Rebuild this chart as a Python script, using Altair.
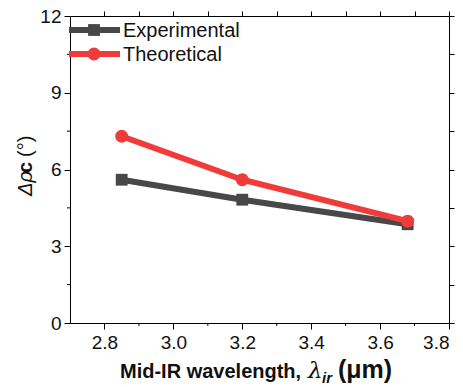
import altair as alt
import pandas as pd

# ---- data ----
wavelength = [2.85, 3.2, 3.68]
experimental = [5.6, 4.82, 3.86]
theoretical = [7.3, 5.6, 3.98]
series_names = ["Experimental", "Theoretical"]
series_colors = ["#484848", "#f03b3b"]
x_major = [2.8, 3.0, 3.2, 3.4, 3.6, 3.8]
x_minor = [2.9, 3.1, 3.3, 3.5, 3.7]
x_top = [2.8, 2.9, 3.0, 3.1, 3.2, 3.3, 3.4, 3.5, 3.6, 3.7, 3.8]
y_major = [0, 3, 6, 9, 12]
y_minor = [1.5, 4.5, 7.5, 10.5]
y_right = [0, 1.5, 3, 4.5, 6, 7.5, 9, 10.5, 12]

FONT = "Liberation Sans"
W, H = 379, 307

df = pd.DataFrame({
    "x": wavelength * 2,
    "y": experimental + theoretical,
    "series": [series_names[0]] * 3 + [series_names[1]] * 3,
})

xs = alt.Scale(domain=[2.7, 3.8], nice=False, zero=False)
ys = alt.Scale(domain=[0, 12], nice=False, zero=False)
color = alt.Color("series:N", scale=alt.Scale(domain=series_names, range=series_colors), legend=None)

axis_common = dict(domainColor="#000", tickColor="#000", labelFont=FONT, labelFontSize=19,
                   labelColor="#111", grid=False, domainWidth=1, tickWidth=1)

x_axis = alt.Axis(values=x_major, format=".1f", tickSize=6, labelPadding=4, title=None, **axis_common)
y_axis = alt.Axis(values=y_major, format="d", tickSize=6, labelPadding=3, title=None, **axis_common)

base = alt.Chart(df)
exp_line = base.transform_filter(alt.datum.series == series_names[0]).mark_line(strokeWidth=6).encode(
    x=alt.X("x:Q", scale=xs, axis=x_axis), y=alt.Y("y:Q", scale=ys, axis=y_axis), color=color)
exp_pts = base.transform_filter(alt.datum.series == series_names[0]).mark_point(
    shape="square", filled=True, size=140, opacity=1).encode(
    x=alt.X("x:Q", scale=xs, axis=None), y=alt.Y("y:Q", scale=ys, axis=None), color=color)
th_line = base.transform_filter(alt.datum.series == series_names[1]).mark_line(strokeWidth=6).encode(
    x=alt.X("x:Q", scale=xs, axis=None), y=alt.Y("y:Q", scale=ys, axis=None), color=color)
th_pts = base.transform_filter(alt.datum.series == series_names[1]).mark_point(
    shape="circle", filled=True, size=170, opacity=1).encode(
    x=alt.X("x:Q", scale=xs, axis=None), y=alt.Y("y:Q", scale=ys, axis=None), color=color)

mirror = base.mark_point(opacity=0).encode(
    x=alt.X("x:Q", scale=xs, axis=alt.Axis(orient="top", values=x_top, labels=False, tickSize=5,
                                            title=None, domainColor="#000", tickColor="#000", grid=False)),
    y=alt.Y("y:Q", scale=ys, axis=alt.Axis(orient="right", values=y_right, labels=False, tickSize=5,
                                            title=None, domainColor="#000", tickColor="#000", grid=False)),
)

minor_x = alt.Chart(pd.DataFrame({"x": x_minor})).mark_rule(color="#000", strokeWidth=1).encode(
    x=alt.X("x:Q", scale=xs, axis=None), y=alt.value(H), y2=alt.value(H + 3))
minor_y = alt.Chart(pd.DataFrame({"y": y_minor})).mark_rule(color="#000", strokeWidth=1).encode(
    y=alt.Y("y:Q", scale=ys, axis=None), x=alt.value(0), x2=alt.value(-3))

# ---- legend ----
leg_y = [14, 38]
leg = []
shapes = ["square", "circle"]
sizes = [140, 170]
for i in range(2):
    d = pd.DataFrame({"t": [series_names[i]]})
    leg.append(alt.Chart(d).mark_rule(strokeWidth=6, color=series_colors[i]).encode(
        x=alt.value(-1), x2=alt.value(50), y=alt.value(leg_y[i])))
    leg.append(alt.Chart(d).mark_point(shape=shapes[i], filled=True, size=sizes[i], opacity=1,
                                       color=series_colors[i]).encode(
        x=alt.value(24), y=alt.value(leg_y[i])))
    leg.append(alt.Chart(d).mark_text(font=FONT, fontSize=20, align="left", baseline="middle",
                                      color="#111").encode(
        x=alt.value(53), y=alt.value(leg_y[i] + 1), text="t:N"))

# ---- axis titles as text pieces ----
def txt(s, x, y, size, weight="normal", style="normal", angle=0, font=FONT):
    return alt.Chart(pd.DataFrame({"t": [s]})).mark_text(
        font=font, fontSize=size, fontWeight=weight, fontStyle=style, angle=angle,
        align="left", baseline="alphabetic", color="#111").encode(
        x=alt.value(x), y=alt.value(y), text="t:N")

titles = [
    txt("Mid-IR wavelength,", 50, 362, 20, weight="bold"),
    txt("λ", 238, 362, 23, style="italic", font="DejaVu Serif"),
    txt("ir", 252, 367, 15, weight="bold", style="italic"),
    txt("(μm)", 268, 362, 25, weight="bold"),
    txt("Δρ", -38, 180, 20, style="italic", angle=270),
    txt("c", -38, 157, 20, weight="bold", angle=270),
    txt("(°)", -38, 141, 20, angle=270),
]

chart = alt.layer(exp_line, exp_pts, th_line, th_pts, mirror, minor_x, minor_y, *leg, *titles).resolve_axis(
    x="independent", y="independent").properties(
    width=W, height=H, autosize=alt.AutoSizeParams(type="none"),
    padding={"left": 62, "top": 8, "right": 6, "bottom": 64},
).configure_view(stroke=None).configure(background="white")

chart.save("out.html", embed_options={"renderer": "svg", "actions": False})
